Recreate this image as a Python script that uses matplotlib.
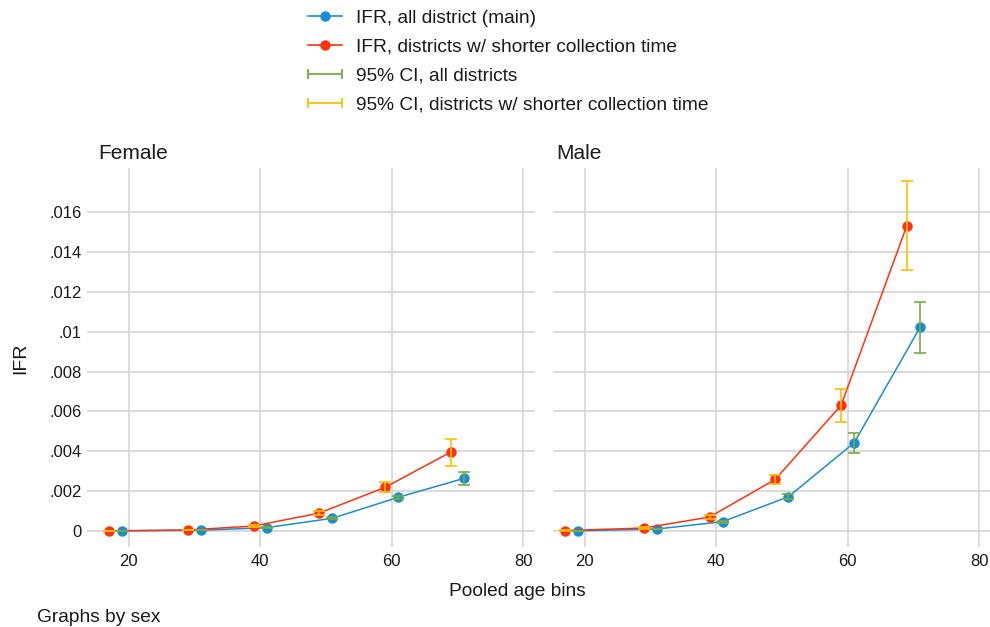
import matplotlib
matplotlib.use("Agg")
import matplotlib.pyplot as plt
from matplotlib.lines import Line2D
from matplotlib.legend_handler import HandlerLine2D

plt.rcParams['font.family'] = ['Liberation Sans', 'DejaVu Sans']

# ---- data ----
panels = ["Female", "Male"]
age_all = [19, 31, 41, 51, 61, 71]
age_short = [17, 29, 39, 49, 59, 69]

ifr_all_f = [0.00001, 0.00004, 0.00017, 0.00064, 0.00169, 0.00264]
ci_all_f_lo = [0.0, 0.00003, 0.00014, 0.00058, 0.00160, 0.00229]
ci_all_f_hi = [0.00002, 0.00005, 0.00020, 0.00070, 0.00178, 0.00297]

ifr_short_f = [0.00001, 0.00005, 0.00025, 0.00090, 0.00219, 0.00396]
ci_short_f_lo = [0.0, 0.00003, 0.00020, 0.00080, 0.00194, 0.00327]
ci_short_f_hi = [0.00002, 0.00007, 0.00030, 0.00100, 0.00244, 0.00463]

ifr_all_m = [0.00001, 0.00010, 0.00047, 0.00172, 0.00443, 0.01021]
ci_all_m_lo = [0.0, 0.00008, 0.00042, 0.00160, 0.00393, 0.00891]
ci_all_m_hi = [0.00002, 0.00012, 0.00052, 0.00184, 0.00493, 0.01150]

ifr_short_m = [0.00002, 0.00015, 0.00070, 0.00259, 0.00630, 0.01531]
ci_short_m_lo = [0.0, 0.00011, 0.00060, 0.00236, 0.00547, 0.01307]
ci_short_m_hi = [0.00004, 0.00019, 0.00080, 0.00282, 0.00714, 0.01755]

xticks = [20, 40, 60, 80]
yticks = [0, 0.002, 0.004, 0.006, 0.008, 0.010, 0.012, 0.014, 0.016]
ytick_labels = ["0", ".002", ".004", ".006", ".008", ".01", ".012", ".014", ".016"]

legend_labels = ["IFR, all district (main)",
                 "IFR, districts w/ shorter collection time",
                 "95% CI, all districts",
                 "95% CI, districts w/ shorter collection time"]

# ---- styles ----
c_blue = "#1a8dd1"
c_red = "#ff3212"
c_green = "#77ad45"
c_yellow = "#ffbf00"
c_grid = "#d4d4d4"
c_text = "#1a1a1a"

W, H = 990, 627
fig = plt.figure(figsize=(W / 100, H / 100), dpi=100)

def fr(x0, y0, x1, y1):
    return [x0 / W, 1 - y1 / H, (x1 - x0) / W, (y1 - y0) / H]

axes = [fig.add_axes(fr(97, 168, 535, 537)), fig.add_axes(fr(553, 168, 991, 537))]

data = [
    (ifr_all_f, ci_all_f_lo, ci_all_f_hi, ifr_short_f, ci_short_f_lo, ci_short_f_hi),
    (ifr_all_m, ci_all_m_lo, ci_all_m_hi, ifr_short_m, ci_short_m_lo, ci_short_m_hi),
]

for i, (ax, name, d) in enumerate(zip(axes, panels, data)):
    ia, alo, ahi, isv, slo, shi = d
    ax.set_xlim(15.2, 81.8)
    ax.set_ylim(-0.0003, 0.018207)
    for s in ax.spines.values():
        s.set_visible(False)
    ax.set_xticks(xticks)
    ax.set_yticks(yticks)
    ax.grid(True, color=c_grid, linewidth=1.2)
    ax.set_axisbelow(True)
    ax.tick_params(axis='x', length=7.2, width=1.2, color=c_grid, labelsize=12,
                   pad=5, labelcolor=c_text)
    if i == 0:
        ax.set_yticklabels(ytick_labels)
        ax.tick_params(axis='y', length=7.2, width=1.2, color=c_grid, labelsize=12,
                       pad=3.6, labelcolor=c_text)
    else:
        ax.tick_params(axis='y', length=0, labelleft=False)

    ax.plot(age_all, ia, color=c_blue, lw=1.1, marker='o', ms=6.5, zorder=3)
    ax.plot(age_short, isv, color=c_red, lw=1.1, marker='o', ms=6.5, zorder=3)
    ax.vlines(age_all, alo, ahi, color=c_green, lw=1.2, zorder=4)
    ax.plot(age_all, alo, ls='none', marker='_', ms=8, mew=1.2, color=c_green, zorder=4)
    ax.plot(age_all, ahi, ls='none', marker='_', ms=8, mew=1.2, color=c_green, zorder=4)
    ax.vlines(age_short, slo, shi, color=c_yellow, lw=1.2, zorder=4)
    ax.plot(age_short, slo, ls='none', marker='_', ms=8, mew=1.2, color=c_yellow, zorder=4)
    ax.plot(age_short, shi, ls='none', marker='_', ms=8, mew=1.2, color=c_yellow, zorder=4)

    ax.text(0.002 if i == 0 else 0.008, 1.0244, name, transform=ax.transAxes,
            ha='left', va='baseline', fontsize=15, color=c_text)

fig.text(21 / W, 1 - 358 / H, "IFR", rotation=90, ha='center', va='center',
         fontsize=14, color=c_text)
fig.text(517 / W, 1 - 592 / H, "Pooled age bins", ha='center', va='center',
         fontsize=13.8, color=c_text)
fig.text(37 / W, 1 - 617 / H, "Graphs by sex", ha='left', va='center',
         fontsize=13.8, color=c_text)

handles = [
    Line2D([], [], color=c_blue, lw=1.2, marker='o', ms=6.5),
    Line2D([], [], color=c_red, lw=1.2, marker='o', ms=6.5),
    Line2D([], [], color=c_green, lw=1.3, marker='|', ms=7, mew=1.3),
    Line2D([], [], color=c_yellow, lw=1.3, marker='|', ms=7, mew=1.3),
]
hm = {handles[0]: HandlerLine2D(numpoints=1), handles[1]: HandlerLine2D(numpoints=1),
      handles[2]: HandlerLine2D(numpoints=2, marker_pad=0.0),
      handles[3]: HandlerLine2D(numpoints=2, marker_pad=0.0)}
fig.legend(handles, legend_labels, handler_map=hm, loc='upper left',
           bbox_to_anchor=(300 / W, 1 - 2 / H), frameon=False, fontsize=13.8,
           handlelength=1.8, handletextpad=0.7, labelspacing=0.59,
           borderaxespad=0, labelcolor=c_text)

fig.savefig("out.png", dpi=100)
